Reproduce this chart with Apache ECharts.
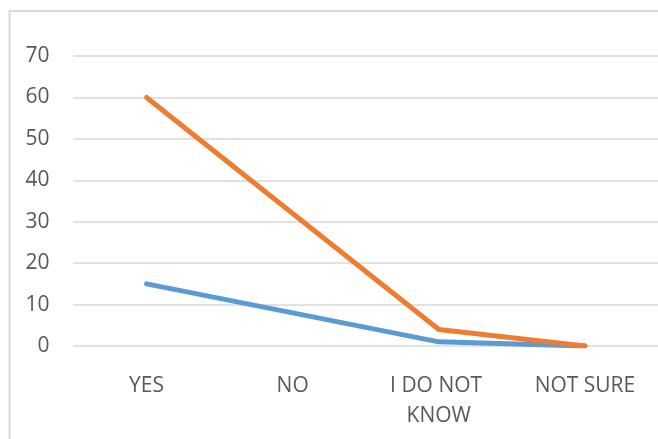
<!DOCTYPE html>
<html>
<head>
<meta charset="utf-8">
<script src="https://cdn.jsdelivr.net/npm/echarts@6/dist/echarts.min.js"></script>
<style>
  html, body { margin: 0; padding: 0; background: #fff; }
  #chart { width: 658px; height: 439px; }
</style>
</head>
<body>
<div id="chart"></div>
<script>
// Survey answers and the two response series
const categories = ['YES', 'NO', 'I DO NOT KNOW', 'NOT SURE'];
const seriesBlue = [15, 8, 1, 0];
const seriesOrange = [60, 32, 4, 0];
const yTicks = { min: 0, max: 70, step: 10 };

const FONT = '"Open Sans", sans-serif';
const TEXT = '#595959';
const GRID = '#D9D9D9';

const chart = echarts.init(document.getElementById('chart'), null, { renderer: 'canvas' });

chart.setOption({
  animation: false,
  backgroundColor: '#ffffff',
  graphic: [{
    type: 'rect',
    shape: { x: 9.5, y: 11, width: 700, height: 500 },
    style: { fill: 'none', stroke: GRID, lineWidth: 2 },
    silent: true,
    z: -1
  }],
  grid: { left: 73.5, top: 56, width: 588, height: 290, containLabel: false },
  xAxis: {
    type: 'category',
    data: categories,
    boundaryGap: true,
    axisLine: { show: false },
    axisTick: { show: false },
    axisLabel: {
      color: TEXT,
      fontFamily: FONT,
      fontSize: 21,
      lineHeight: 30,
      margin: 25,
      width: 115,
      overflow: 'break',
      interval: 0
    }
  },
  yAxis: {
    type: 'value',
    min: yTicks.min,
    max: yTicks.max,
    interval: yTicks.step,
    axisLine: { show: false },
    axisTick: { show: false },
    axisLabel: {
      color: TEXT,
      fontFamily: FONT,
      fontSize: 21,
      margin: 24
    },
    splitLine: { lineStyle: { color: GRID, width: 1.5 } }
  },
  series: [
    {
      type: 'line',
      data: seriesBlue,
      showSymbol: false,
      symbol: 'none',
      lineStyle: { color: '#5B9BD5', width: 5, cap: 'round', join: 'round' },
      z: 2
    },
    {
      type: 'line',
      data: seriesOrange,
      showSymbol: false,
      symbol: 'none',
      lineStyle: { color: '#ED7D31', width: 5, cap: 'round', join: 'round' },
      z: 3
    }
  ]
});
</script>
</body>
</html>
